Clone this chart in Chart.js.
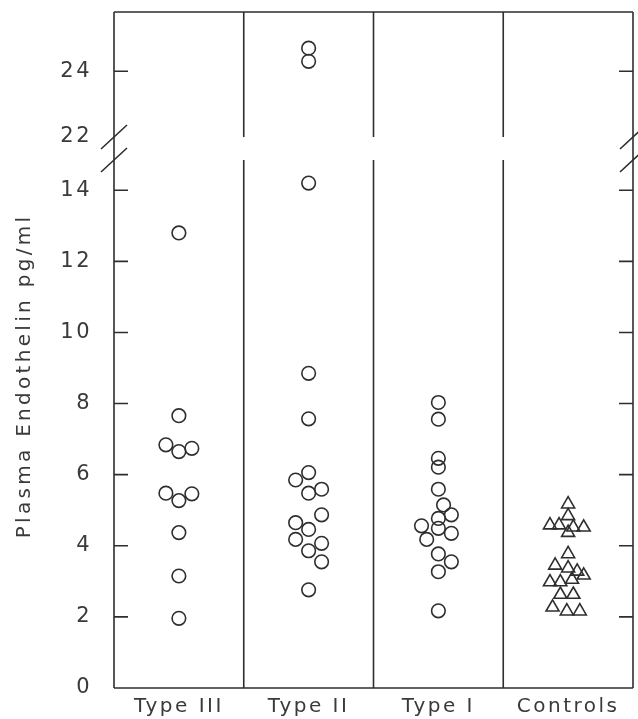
<!DOCTYPE html>
<html>
<head>
<meta charset="utf-8">
<script src="https://cdn.jsdelivr.net/npm/chart.js@4.4.0/dist/chart.umd.min.js"></script>
<style>
    html, body { margin: 0; padding: 0; background: #fff; }
</style>
</head>
<body>
<canvas id="endothelinChart" width="638" height="719"></canvas>
<script>
// --- Data ---
const groups = ['Type III', 'Type II', 'Type I', 'Controls'];

const typeIII = [12.8, 7.66, 6.84, 6.65, 6.74, 5.48, 5.27, 5.46, 4.37, 3.15, 1.96];
const typeIIIJitter = [0, 0, -0.1, 0, 0.1, -0.1, 0, 0.1, 0, 0, 0];

const typeII = [24.7, 24.3, 14.2, 8.85, 7.57, 6.06, 5.85, 5.48, 5.59, 4.87, 4.65, 4.46, 4.18, 4.07, 3.86, 3.55, 2.76];
const typeIIJitter = [0, 0, 0, 0, 0, 0, -0.1, 0, 0.1, 0.1, -0.1, 0, -0.1, 0.1, 0, 0.1, 0];

const typeI = [8.03, 7.56, 6.46, 6.21, 5.59, 5.15, 4.87, 4.77, 4.56, 4.49, 4.35, 4.18, 3.77, 3.55, 3.27, 2.17];
const typeIJitter = [0, 0, 0, 0, 0, 0.04, 0.1, 0, -0.13, 0, 0.1, -0.09, 0, 0.1, 0, 0];

const controls = [5.17, 4.84, 4.58, 4.58, 4.52, 4.52, 4.37, 3.77, 3.45, 3.37, 3.28, 3.17, 2.98, 2.98, 3.05, 2.63, 2.63, 2.27, 2.16, 2.16];
const controlsJitter = [0, 0, -0.14, -0.07, 0.04, 0.12, 0, 0, -0.1, 0, 0.07, 0.12, -0.14, -0.06, 0.03, -0.06, 0.04, -0.12, -0.01, 0.09];

const lowerTicks = [0, 2, 4, 6, 8, 10, 12, 14];
const upperTicks = [22, 24];
const breakValue = 20; // values above this go on the upper (broken) axis

// --- Styles ---
const INK = '#2e2e2e';
const TEXT = '#3a3a3a';
const FONT = { family: 'DejaVu Sans', size: 21 };

// --- Build datasets ---
function buildDatasets() {
    const series = [
        { values: typeIII, jitter: typeIIIJitter, style: 'circle' },
        { values: typeII, jitter: typeIIJitter, style: 'circle' },
        { values: typeI, jitter: typeIJitter, style: 'circle' },
        { values: controls, jitter: controlsJitter, style: 'triangle' }
    ];
    const datasets = [];
    series.forEach((s, g) => {
        const lower = [];
        const upper = [];
        s.values.forEach((v, i) => {
            const pt = { x: g + 0.5 + s.jitter[i], y: v };
            if (v > breakValue) upper.push(pt); else lower.push(pt);
        });
        const base = {
            pointStyle: s.style,
            pointRadius: s.style === 'triangle' ? 7.5 : 6.8,
            pointBorderWidth: 1.6,
            pointBorderColor: INK,
            pointBackgroundColor: 'rgba(0,0,0,0)',
            showLine: false
        };
        datasets.push({ ...base, label: groups[g], data: lower, yAxisID: 'y' });
        if (upper.length) datasets.push({ ...base, label: groups[g] + ' (high)', data: upper, yAxisID: 'yTop' });
    });
    return datasets;
}

// no extra label padding, so the plot box stays where the figure has it
function noPadding(s) {
    s.paddingTop = 0;
    s.paddingBottom = 0;
    s.paddingLeft = 0;
    s.paddingRight = 0;
}

// --- Frame, dividers, inward ticks, axis breaks, y title ---
const framePlugin = {
    id: 'frame',
    beforeDraw(chart) {
        const ctx = chart.ctx;
        ctx.save();
        ctx.fillStyle = '#fff';
        ctx.fillRect(0, 0, chart.width, chart.height);
        ctx.restore();
        ctx.letterSpacing = '2.5px';
    },
    afterDraw(chart) {
        const { ctx, chartArea: a, scales } = chart;
        const x = scales.x, y = scales.y, yTop = scales.yTop;
        const gapTop = yTop.getPixelForValue(upperTicks[0]);
        const gapBottom = y.getPixelForValue(y.max);
        const tick = 14;

        ctx.save();
        ctx.strokeStyle = INK;
        ctx.lineWidth = 1.6;
        ctx.lineCap = 'butt';

        // outer box
        ctx.beginPath();
        ctx.moveTo(a.left, a.top); ctx.lineTo(a.right, a.top);
        ctx.moveTo(a.left, a.bottom); ctx.lineTo(a.right, a.bottom);
        ctx.moveTo(a.left, a.top); ctx.lineTo(a.left, a.bottom);
        ctx.moveTo(a.right, a.top); ctx.lineTo(a.right, a.bottom);
        ctx.stroke();

        // group dividers, interrupted at the break
        ctx.beginPath();
        for (let i = 1; i < groups.length; i++) {
            const px = x.getPixelForValue(i);
            ctx.moveTo(px, a.top); ctx.lineTo(px, gapTop);
            ctx.moveTo(px, gapBottom); ctx.lineTo(px, a.bottom);
        }
        ctx.stroke();

        // inward ticks on both sides
        ctx.beginPath();
        lowerTicks.forEach(v => {
            if (v === y.min) return;
            const py = y.getPixelForValue(v);
            ctx.moveTo(a.left, py); ctx.lineTo(a.left + tick, py);
            ctx.moveTo(a.right, py); ctx.lineTo(a.right - tick, py);
        });
        upperTicks.slice(1).forEach(v => {
            const py = yTop.getPixelForValue(v);
            ctx.moveTo(a.left, py); ctx.lineTo(a.left + tick, py);
            ctx.moveTo(a.right, py); ctx.lineTo(a.right - tick, py);
        });
        ctx.stroke();

        // break slashes
        ctx.beginPath();
        [a.left, a.right].forEach(ax => {
            [gapTop, gapBottom].forEach(gy => {
                ctx.moveTo(ax - 13, gy + 12);
                ctx.lineTo(ax + 13, gy - 12);
            });
        });
        ctx.stroke();

        // y axis title
        ctx.fillStyle = TEXT;
        ctx.font = `20px ${FONT.family}`;
        ctx.letterSpacing = '3.3px';
        ctx.textAlign = 'center';
        ctx.textBaseline = 'middle';
        ctx.translate(25, 376);
        ctx.rotate(-Math.PI / 2);
        ctx.fillText('Plasma Endothelin pg/ml', 0, 0);
        ctx.restore();
    }
};

// --- Chart ---
function initChart() {
    const ctx = document.getElementById('endothelinChart');
    new Chart(ctx, {
        type: 'scatter',
        data: { datasets: buildDatasets() },
        options: {
            responsive: false,
            animation: false,
            layout: { autoPadding: false, padding: { top: 12, right: 5, left: 0, bottom: 0 } },
            plugins: { legend: { display: false }, tooltip: { enabled: false } },
            scales: {
                x: {
                    type: 'linear',
                    min: 0,
                    max: groups.length,
                    grid: { display: false, drawTicks: false },
                    border: { display: false },
                    afterBuildTicks: s => { s.ticks = groups.map((g, i) => ({ value: i + 0.5 })); },
                    afterFit: s => { s.height = 31; noPadding(s); },
                    ticks: {
                        autoSkip: false,
                        maxRotation: 0,
                        padding: 7,
                        color: TEXT,
                        font: { family: FONT.family, size: 20 },
                        callback: v => groups[Math.floor(v)]
                    }
                },
                y: {
                    type: 'linear',
                    position: 'left',
                    stack: 'broken',
                    stackWeight: 528,
                    min: 0,
                    max: 14.85,
                    grid: { display: false, drawTicks: false },
                    border: { display: false },
                    afterBuildTicks: s => { s.ticks = lowerTicks.map(v => ({ value: v })); },
                    afterFit: s => { s.width = 114; noPadding(s); },
                    ticks: { padding: 22, color: TEXT, font: FONT }
                },
                yTop: {
                    type: 'linear',
                    position: 'left',
                    stack: 'broken',
                    stackWeight: 148,
                    min: 21.3,
                    max: 25.8,
                    grid: { display: false, drawTicks: false },
                    border: { display: false },
                    afterBuildTicks: s => { s.ticks = upperTicks.map(v => ({ value: v })); },
                    afterFit: s => { s.width = 114; noPadding(s); },
                    ticks: { padding: 22, color: TEXT, font: FONT }
                }
            }
        },
        plugins: [framePlugin]
    });
}

window.onload = initChart;
</script>
</body>
</html>
